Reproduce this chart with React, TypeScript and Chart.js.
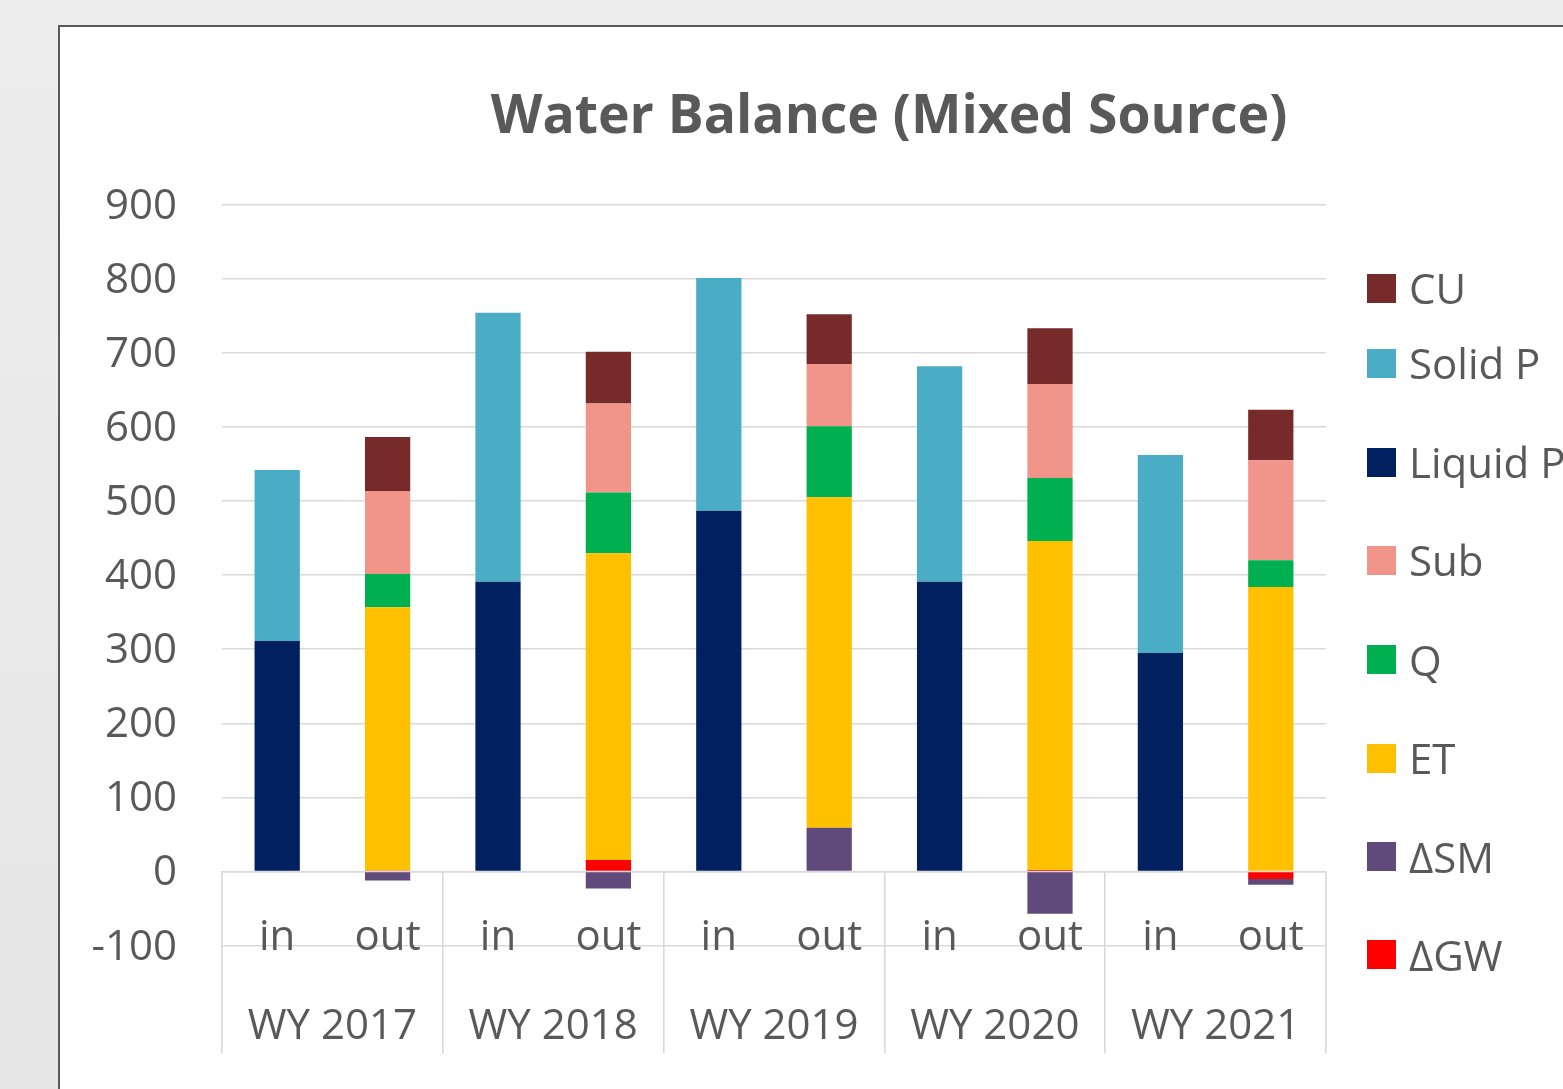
import React, { useEffect, useRef } from 'react';
import { Chart, registerables } from 'chart.js';

Chart.register(...registerables);

// ---- data ----
const groups = ['WY 2017', 'WY 2018', 'WY 2019', 'WY 2020', 'WY 2021'];
const sides = ['in', 'out'];
const categories = groups.flatMap(() => sides);

const liquidP = [311, 391, 487, 391, 295];
const solidP = [231, 363, 314, 291, 267];
const dGW = [1.5, 15.5, 0, 2, -10];
const dSM = [-12, -23, 59, -57, -8];
const et = [355, 414, 446, 444, 384];
const q = [45, 82, 96, 85, 36];
const sub = [112, 120, 84, 127, 135];
const cu = [73, 70, 67, 75, 68];

const yMin = -100;
const yMax = 900;
const yStep = 100;

// series order (bottom of stack first)
const seriesNames = ['ΔGW', 'ΔSM', 'ET', 'Q', 'Sub', 'Liquid P', 'Solid P', 'CU'];
const seriesValues = [dGW, dSM, et, q, sub, liquidP, solidP, cu];
const seriesSide = ['out', 'out', 'out', 'out', 'out', 'in', 'in', 'out'];
const seriesColors = ['#FF0000', '#604A7B', '#FFC000', '#00B050', '#F1948A', '#002060', '#4BACC6', '#772A2A'];

// ---- styling / layout ----
const TEXT = '#595959';
const GRID = '#d9d9d9';
const FONT = '"Open Sans", "Noto Sans", sans-serif';
const W = 1563;
const H = 1089;
const legendCenters = [288, 363, 462, 560, 659.5, 758, 856.5, 954.5];

function buildData(values: number[], side: string) {
  const out: (number | null)[] = [];
  values.forEach((v) => {
    sides.forEach((s) => out.push(s === side ? v : null));
  });
  return out;
}

export default function App() {
  const ref = useRef<HTMLCanvasElement | null>(null);

  useEffect(() => {
    const prevMargin = document.body.style.margin;
    document.body.style.margin = '0';
    if (!ref.current) return;
    const chart = new Chart(ref.current, {
      type: 'bar',
      data: {
        labels: categories,
        datasets: seriesNames.map((name, i) => ({
          label: name,
          data: buildData(seriesValues[i], seriesSide[i]),
          backgroundColor: seriesColors[i],
          borderWidth: 0,
          barPercentage: 0.41,
          categoryPercentage: 1,
        })),
      },
      options: {
        responsive: false,
        animation: false,
        devicePixelRatio: 1,
        layout: { padding: { left: 0, top: 204.6, right: W - 1326, bottom: H - 945.6 } },
        plugins: { legend: { display: false }, title: { display: false }, tooltip: { enabled: false } },
        scales: {
          y: {
            type: 'linear',
            position: 'left',
            stacked: true,
            min: yMin,
            max: yMax,
            ticks: { stepSize: yStep, color: TEXT, font: { family: FONT, size: 42 }, padding: 45, labelOffset: 2 },
            grid: { color: GRID, lineWidth: 1.6, drawTicks: false },
            border: { display: false },
            afterFit: (s: any) => { s.width = 222; },
          },
          x: {
            type: 'category',
            position: { y: 0 } as any,
            stacked: true,
            offset: true,
            ticks: { color: TEXT, font: { family: FONT, size: 42 }, padding: 41, maxRotation: 0, autoSkip: false },
            grid: { display: false, drawTicks: false },
            border: { display: false },
          },
          x2: {
            type: 'category',
            position: { y: 0 } as any,
            labels: groups,
            offset: true,
            ticks: { color: TEXT, font: { family: FONT, size: 42 }, padding: -51, maxRotation: 0, autoSkip: false },
            grid: { offset: true, drawOnChartArea: false, drawTicks: true, tickLength: 181, color: GRID, lineWidth: 1.6 },
            border: { display: true, color: GRID, width: 1.6 },
          },
        } as any,
      },
    });
    return () => {
      chart.destroy();
      document.body.style.margin = prevMargin;
    };
  }, []);

  const legendItems = seriesNames.map((n, i) => ({ name: n, color: seriesColors[i] })).reverse();

  return (
    <div style={{ position: 'absolute', left: 0, top: 0, width: W, height: H, overflow: 'hidden', background: 'linear-gradient(180deg, #ededed 0%, #e6e6e6 100%)', fontFamily: FONT }}>
      <div style={{ position: 'absolute', left: 58, top: 25, width: W, height: H, background: '#ffffff', borderLeft: '2px solid #595959', borderTop: '2px solid #595959' }} />
      <canvas ref={ref} width={W} height={H} style={{ position: 'absolute', left: 0, top: 0, width: W, height: H }} />
      <div style={{ position: 'absolute', left: 389, width: 1000, top: 85, textAlign: 'center', fontSize: 53.5, lineHeight: '55px', fontWeight: 700, color: TEXT, whiteSpace: 'nowrap' }}>
        Water Balance (Mixed Source)
      </div>
      {legendItems.map((it, i) => (
        <div key={it.name} style={{ position: 'absolute', left: 1367, top: legendCenters[i] - 25, height: 50, display: 'flex', alignItems: 'center', whiteSpace: 'nowrap' }}>
          <span style={{ display: 'inline-block', width: 29, height: 29, background: it.color, marginRight: 13 }} />
          <span style={{ fontSize: 42, lineHeight: '50px', color: TEXT }}>{it.name}</span>
        </div>
      ))}
    </div>
  );
}
